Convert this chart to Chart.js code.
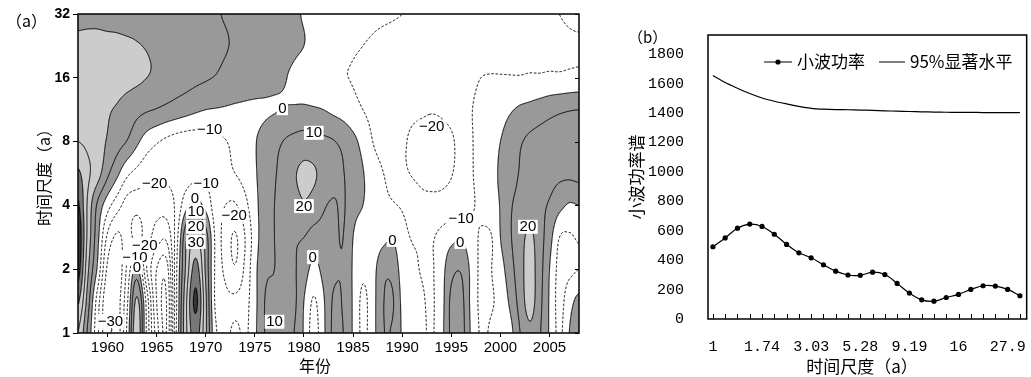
<!DOCTYPE html>
<html><head><meta charset="utf-8">
<script src="https://cdn.jsdelivr.net/npm/chart.js@4.4.1/dist/chart.umd.min.js"></script>
<style>
html,body{margin:0;padding:0;background:#fff;}
#pa{position:absolute;left:0;top:0;width:600px;height:377px;}
#pb{position:absolute;left:600px;top:0;width:431px;height:377px;}
</style></head><body>
<div id="pa"><canvas id="ca" width="600" height="377"></canvas></div>
<div id="pb"><canvas id="cb" width="431" height="377"></canvas></div>
<script>
// ---------- Panel (a) data ----------
const years = [1957,1958,1959,1960,1961,1962,1963,1964,1965,1966,1967,1968,1969,1970,1971,1972,1973,1974,1975,1976,1977,1978,1979,1980,1981,1982,1983,1984,1985,1986,1987,1988,1989,1990,1991,1992,1993,1994,1995,1996,1997,1998,1999,2000,2001,2002,2003,2004,2005,2006,2007,2008];
const scaleRows = [1, 1.41421, 2, 2.82843, 4, 5.65685, 8, 11.3137, 16, 22.6274, 32];
// wavelet coefficients (real part), one row per year, one value per scale in scaleRows
const waveletCoef = [
[30,42,55,58,52,42,30,25,24,22,18],
[8,15,22,27,28,32,28,25,24,22.5,18],
[-18,-15,-2,3,8,24,25,24,24,22.5,18],
[-38,-38,-32,-22,-6,12,19,21,23.5,22.5,17],
[-36,-35,-38,-32,-16,2,14,19,23,22,17],
[-8,-12,-18,-26,-24,-8,9.5,16,22.5,21.5,16],
[28,22,2,-33,-26,-13,2,13,21.5,20.5,16],
[-12,-14,-30,-27,-24,-16.5,-5,11,20,19.5,15],
[-45,-50,-50,-35,-26,-18,-9,9.5,18.5,18,15],
[-60,-60,-55,-38,-25,-18,-12,7.5,17,17,14],
[-10,-12,-12,-15,-18,-17,-14,5.5,15,15.5,13],
[28,28,22,18,-3,-15,-15,3.5,13.5,14,12],
[45,52,44,30,4,-13,-15,1.5,12,13,12],
[22,22,18,15,-3,-12,-14,0,10.8,12,11],
[-8,-12,-12,-12,-15,-13,-12.5,-0.5,9.5,11.5,10.5],
[-13,-17,-22,-24,-20,-13,-10.5,-1,7.5,10.5,9.5],
[-7,-17,-29,-31,-21,-10,-7,-1.5,6.5,9,8],
[-12,-14,-18,-20,-13,-6,-3,-1.5,5,7.5,7],
[-2,-3,-3,-5,-3,-1,-0.5,-1.5,4,6,6],
[10,10,8,6,5,4,3,-1,3,5,5],
[12,12,10,10,10,9,7,-0.5,2,4,3.5],
[14,14,13,12,13,14,10.5,0.5,0.5,3,2.5],
[10,12,11,11,16,19,13,1,-1.5,1.5,1],
[-1,0,5,10,19,22,14.5,1.5,-4,0,-0.5],
[-14,-11,-3,6,16,21,13.5,1,-6.5,-2,-2],
[-2,-1,3,7,11,17,12,0,-7.5,-4.5,-3],
[12,11,8,8,9,13.5,10.5,-2,-8.5,-6,-4.5],
[10,9,9,10,11,10.5,7.5,-4,-9.5,-7.5,-5.5],
[-1,-1,-1,0,3,4,2.5,-7,-10.5,-9,-6.5],
[-12,-12,-8,-5,0,0.5,-3,-10,-12,-10,-7.5],
[-4,-4,-4,-6,-4,-5,-10,-12.5,-13,-11,-8.5],
[9,9,7,-3,-7,-9.5,-14,-14,-14,-12,-9],
[9,11,7,-0.5,-9,-14,-17,-16,-14.5,-12.5,-9.5],
[-1,-2,-4,-7,-11,-18,-19,-17.5,-15,-13,-10],
[-6,-7,-8,-10.5,-14,-20.5,-21,-18.5,-15.5,-13.5,-10.8],
[-8,-9,-10.5,-11,-17,-22,-22.5,-19,-16,-14,-11.5],
[-11,-11,-11,-11,-17.5,-22.5,-23,-19.5,-16,-14.5,-12],
[-3,-4,-4,-7,-17,-22,-22.5,-19,-16,-15,-12.5],
[12,12,7,-3,-15,-20.5,-21,-17.5,-15.5,-15,-13],
[14,13,9,-1,-13,-16,-17,-15,-14,-15,-13],
[-1,-2,-2,-6,-11,-11,-11,-10.5,-12,-14.5,-13],
[-11,-12,-12,-11,-8,-7,-7,-8,-10,-14,-13],
[-9,-11,-10.5,-11,-3,-2,-3,-6,-9.5,-13.5,-13],
[-6,-7,-4,0,0.5,1,0,-4,-9.5,-13,-12.5],
[-3,2,6,9,9,7,5,-1,-9.5,-12.5,-12],
[10,14,16,16,12,10.5,9,1.5,-9.5,-12,-11.5],
[18,24,24,22,16,13,12,3,-9,-12,-11],
[11,13,14,14,12,13,13.5,5,-9,-11.5,-10.7],
[-1,-1,0,4,9,13,14.5,7,-8.5,-11.5,-10.3],
[-12,-13,-13,-10,3,12,15,8.5,-8.5,-11.5,-10],
[0,-4,-12,-11,-1,12,15,9.5,-8,-11,-9],
[8,3,-10,-9,0,13,15,10,-7.5,-11,-8]
];
const yearTicks = [1960,1965,1970,1975,1980,1985,1990,1995,2000,2005];
const scaleTicks = [1,2,4,8,16,32];
const contourLevels = [-60,-50,-40,-30,-20,-10,0,10,20,30,40,50];
const labelText  = ['0','10','20','0','10','\u221210','\u221220','\u221210','0','10','20','30','\u221220','\u221220','\u221210','0','\u221230','0','0','\u221210','20','\u221220'];
const labelYear  = [1977.8,1981.0,1980.0,1980.9,1977.0,1970.4,1964.8,1970.05,1968.9,1969.0,1969.0,1969.0,1972.9,1963.8,1962.8,1963.0,1960.3,1989.0,1995.9,1996.0,2002.8,1993.0];
const labelScale = [11.5,8.8,3.97,2.28,1.13,9.1,5.1,5.1,4.3,3.73,3.17,2.69,3.6,2.6,2.28,2.05,1.14,2.75,2.69,3.47,3.17,9.4];

// ---------- Panel (b) data ----------
const scaleIndex = [0,1,2,3,4,5,6,7,8,9,10,11,12,13,14,15,16,17,18,19,20,21,22,23,24,25];
const scaleTickLabels = ['1','','','','1.74','','','','3.03','','','','5.28','','','','9.19','','','','16','','','','27.9',''];
const powerValues = [491,551,617,645,629,576,507,450,416,368,325,299,297,318,302,242,176,130,121,146,167,201,226,224,201,158];
const signif95 = [1655,1607,1568,1532,1502,1480,1462,1445,1432,1426,1423,1422,1420,1418,1415,1412,1410,1408,1406,1405,1404,1404,1403,1403,1402,1402];
const powerTicks = [0,200,400,600,800,1000,1200,1400,1600,1800];

// ---------- contour helpers ----------
function cr(p0,p1,p2,p3,t){return 0.5*((2*p1)+(-p0+p2)*t+(2*p0-5*p1+4*p2-p3)*t*t+(-p0+3*p1-3*p2+p3)*t*t*t);}
function traceLevel(F,W,H,lev){
  const P=new Map(), A=new Map(), off=W*H;
  const add=(id,x,y)=>{if(!P.has(id))P.set(id,[x,y]);return id;};
  const link=(a,b)=>{let t=A.get(a);if(!t){t=[];A.set(a,t);}t.push(b);t=A.get(b);if(!t){t=[];A.set(b,t);}t.push(a);};
  for(let j=0;j<H-1;j++){for(let i=0;i<W-1;i++){
    const a=F[j*W+i],b=F[j*W+i+1],c=F[(j+1)*W+i+1],d=F[(j+1)*W+i];
    const idx=(a>=lev?8:0)|(b>=lev?4:0)|(c>=lev?2:0)|(d>=lev?1:0);
    if(idx===0||idx===15)continue;
    const t=j*W+i,bo=(j+1)*W+i,l=off+j*W+i,r=off+j*W+i+1;
    const T_=()=>add(t,i+(lev-a)/(b-a),j);
    const R_=()=>add(r,i+1,j+(lev-b)/(c-b));
    const B_=()=>add(bo,i+(lev-d)/(c-d),j+1);
    const L_=()=>add(l,i,j+(lev-a)/(d-a));
    switch(idx){
      case 1:case 14:link(L_(),B_());break;
      case 2:case 13:link(B_(),R_());break;
      case 3:case 12:link(L_(),R_());break;
      case 4:case 11:link(T_(),R_());break;
      case 6:case 9:link(T_(),B_());break;
      case 7:case 8:link(T_(),L_());break;
      case 5:{if((a+b+c+d)/4>=lev){link(T_(),L_());link(R_(),B_());}else{link(T_(),R_());link(L_(),B_());}break;}
      case 10:{if((a+b+c+d)/4>=lev){link(T_(),R_());link(L_(),B_());}else{link(T_(),L_());link(B_(),R_());}break;}
    }
  }}
  const seen=new Set(),out=[];
  const walk=(s)=>{const line=[P.get(s)];seen.add(s);let prev=-1,cur=s;
    while(true){const nb=A.get(cur);let nx=-1;for(const n of nb){if(n!==prev&&!seen.has(n)){nx=n;break;}}
      if(nx<0){if(cur!==s&&nb.includes(s)&&line.length>2)line.push(P.get(s));break;}
      line.push(P.get(nx));seen.add(nx);prev=cur;cur=nx;}
    out.push(line);};
  for(const [id,nb] of A){if(nb.length===1&&!seen.has(id))walk(id);}
  for(const [id] of A){if(!seen.has(id))walk(id);}
  return out;
}
function grayFor(v){ if(v<0)return 255; if(v<20)return 153; if(v<40)return 204; if(v<50)return 120; return 52; }

const contourPlugin={
  id:'contour',
  beforeDatasetsDraw(chart){
    const ctx=chart.ctx,xs=chart.scales.x,ys=chart.scales.y,ca=chart.chartArea;
    const L0=Math.round(ca.left),T0=Math.round(ca.top),R0=Math.round(ca.right),B0=Math.round(ca.bottom);
    const W=R0-L0,H=B0-T0;
    const pts=chart.data.datasets[0].data, nc=years.length, nr=scaleRows.length;
    const G=(i,j)=>pts[i*nr+j].v;
    const lr=scaleRows.map(s=>Math.log2(s));
    const U=new Float32Array(W),V=new Float32Array(H);
    for(let i=0;i<W;i++){const yr=xs.getValueForPixel(L0+i+0.5);U[i]=Math.max(0,Math.min(nc-1,(yr-years[0])/(years[1]-years[0])));}
    for(let j=0;j<H;j++){const l=Math.log2(ys.getValueForPixel(T0+j+0.5));let k=0;while(k<nr-2&&l>lr[k+1])k++;V[j]=Math.max(0,Math.min(nr-1,k+(l-lr[k])/(lr[k+1]-lr[k])));}
    const ci=k=>Math.max(0,Math.min(nc-1,k)), rj=k=>Math.max(0,Math.min(nr-1,k));
    const F=new Float32Array(W*H);
    for(let j=0;j<H;j++){
      const v=V[j];let jj=Math.floor(v);if(jj>=nr-1)jj=nr-2;const tv=v-jj;
      for(let i=0;i<W;i++){
        const u=U[i];let ii=Math.floor(u);if(ii>=nc-1)ii=nc-2;const tu=u-ii;
        const r=[];
        for(let m=-1;m<=2;m++){const q=rj(jj+m);r.push(cr(G(ci(ii-1),q),G(ci(ii),q),G(ci(ii+1),q),G(ci(ii+2),q),tu));}
        F[j*W+i]=cr(r[0],r[1],r[2],r[3],tv);
      }
    }
    const img=ctx.createImageData(W,H);
    for(let k=0;k<W*H;k++){const g=grayFor(F[k]);img.data[4*k]=g;img.data[4*k+1]=g;img.data[4*k+2]=g;img.data[4*k+3]=255;}
    ctx.putImageData(img,L0,T0);
    ctx.save();
    ctx.beginPath();ctx.rect(L0,T0,W,H);ctx.clip();
    ctx.strokeStyle='#000';ctx.lineWidth=1;ctx.lineJoin='round';
    for(const lev of contourLevels){
      const lines=traceLevel(F,W,H,lev);
      ctx.setLineDash(lev<0?[2.5,1.8]:[]);
      ctx.beginPath();
      for(const ln of lines){ln.forEach((p,n)=>{const x=L0+p[0]+0.5,y=T0+p[1]+0.5;if(n===0)ctx.moveTo(x,y);else ctx.lineTo(x,y);});}
      ctx.stroke();
    }
    ctx.setLineDash([]);
    ctx.font='15px "Liberation Sans", Arial, sans-serif';ctx.textAlign='center';ctx.textBaseline='middle';
    for(let n=0;n<labelText.length;n++){
      const x=xs.getPixelForValue(labelYear[n]),y=ys.getPixelForValue(labelScale[n]);
      const w=ctx.measureText(labelText[n]).width+3;
      ctx.fillStyle='#fff';ctx.fillRect(x-w/2,y-7,w,14);
      ctx.fillStyle='#000';ctx.fillText(labelText[n],x,y+0.5);
    }
    ctx.restore();
  },
  afterDraw(chart){
    const ctx=chart.ctx,ca=chart.chartArea,ys=chart.scales.y;
    ctx.save();
    ctx.strokeStyle='#000';ctx.lineWidth=1.5;
    ctx.strokeRect(ca.left,ca.top,ca.right-ca.left,ca.bottom-ca.top);
    ctx.lineWidth=1;ctx.beginPath();
    for(const v of scaleTicks){const y=Math.round(ys.getPixelForValue(v))+0.5;ctx.moveTo(ca.right-4,y);ctx.lineTo(ca.right,y);}
    ctx.stroke();
    ctx.fillStyle='#000';
    ctx.font='16px "Noto Sans CJK SC", sans-serif';ctx.textAlign='left';ctx.textBaseline='middle';
    ctx.fillText('（a）',6,21);
    ctx.textAlign='center';
    ctx.fillText('年份',315,366);
    ctx.translate(44,(ca.top+ca.bottom)/2);ctx.rotate(-Math.PI/2);
    ctx.fillText('时间尺度（a）',0,0);
    ctx.restore();
  }
};

const gridPoints=[];
years.forEach((yr,i)=>scaleRows.forEach((s,j)=>gridPoints.push({x:yr,y:s,v:waveletCoef[i][j]})));

new Chart(document.getElementById('ca'),{
  type:'scatter',
  data:{datasets:[{data:gridPoints,pointRadius:0,showLine:false}]},
  options:{
    responsive:false,animation:false,events:[],
    layout:{padding:{left:0,top:14,right:21,bottom:0}},
    scales:{
      x:{type:'linear',min:1957,max:2008,
        afterBuildTicks:s=>{s.ticks=yearTicks.map(v=>({value:v}));},
        afterFit:s=>{s.height=44;},
        ticks:{autoSkip:false,maxRotation:0,padding:2,color:'#000',font:{family:'"Liberation Sans", Arial, sans-serif',size:15},callback:v=>String(v)},
        grid:{drawOnChartArea:false,drawTicks:true,tickLength:4,color:'#000'},
        border:{display:false}},
      y:{type:'logarithmic',min:1,max:32,
        afterBuildTicks:s=>{s.ticks=scaleTicks.map(v=>({value:v}));},
        afterFit:s=>{s.width=78;},
        ticks:{autoSkip:false,padding:3,color:'#000',font:{family:'"Liberation Sans", Arial, sans-serif',size:14,weight:'bold'},callback:v=>String(v)},
        grid:{drawOnChartArea:false,drawTicks:true,tickLength:5,color:'#000'},
        border:{display:false}}
    },
    plugins:{legend:{display:false},tooltip:{enabled:false}}
  },
  plugins:[contourPlugin]
});

// ---------- Panel (b) ----------
const panelBPlugin={
  id:'panelB',
  afterDraw(chart){
    const ctx=chart.ctx,ca=chart.chartArea,xs=chart.scales.x;
    ctx.save();
    ctx.strokeStyle='#000';ctx.lineWidth=1.5;
    ctx.strokeRect(ca.left,ca.top,ca.right-ca.left,ca.bottom-ca.top);
    ctx.lineWidth=1;ctx.beginPath();
    for(const i of scaleIndex){const x=Math.round(xs.getPixelForValue(i))+0.5;ctx.moveTo(x,ca.bottom);ctx.lineTo(x,ca.bottom-5);}
    ctx.stroke();
    const ly=ca.top+27;
    ctx.lineWidth=1.2;ctx.beginPath();ctx.moveTo(164,ly);ctx.lineTo(192,ly);ctx.moveTo(279,ly);ctx.lineTo(305,ly);ctx.stroke();
    ctx.fillStyle='#000';ctx.beginPath();ctx.arc(178,ly,2.6,0,Math.PI*2);ctx.fill();
    ctx.font='17px "Noto Sans CJK SC", sans-serif';ctx.textAlign='left';ctx.textBaseline='middle';
    ctx.fillText('小波功率',197,ly);
    ctx.fillText('95%显著水平',310,ly);
    ctx.font='15px "Noto Sans CJK SC", sans-serif';
    ctx.fillText('（b）',28,37);
    ctx.font='17px "Noto Sans CJK SC", sans-serif';ctx.textAlign='center';
    ctx.fillText('时间尺度（a）',262,367);
    ctx.translate(37,(ca.top+ca.bottom)/2);ctx.rotate(-Math.PI/2);
    ctx.fillText('小波功率谱',0,0);
    ctx.restore();
  }
};
const monoFont={family:'"Liberation Mono", "DejaVu Sans Mono", monospace',size:15};
new Chart(document.getElementById('cb'),{
  type:'line',
  data:{datasets:[
    {label:'小波功率',data:powerValues.map((v,i)=>({x:scaleIndex[i],y:v})),borderColor:'#000',borderWidth:1.2,pointRadius:2.6,pointBackgroundColor:'#000',pointBorderWidth:0,tension:0.35},
    {label:'95%显著水平',data:signif95.map((v,i)=>({x:scaleIndex[i],y:v})),borderColor:'#000',borderWidth:1.2,pointRadius:0,tension:0.3}
  ]},
  options:{
    responsive:false,animation:false,events:[],
    layout:{padding:{left:18,top:35,right:3,bottom:0}},
    scales:{
      x:{type:'linear',min:-0.4,max:25.55,
        afterBuildTicks:s=>{s.ticks=scaleIndex.map(v=>({value:v}));},
        afterFit:s=>{s.height=58;},
        ticks:{autoSkip:false,maxRotation:0,padding:11,color:'#000',font:monoFont,callback:v=>scaleTickLabels[v]},
        grid:{display:false},border:{display:false}},
      y:{min:0,max:1930,
        afterBuildTicks:s=>{s.ticks=powerTicks.map(v=>({value:v}));},
        afterFit:s=>{s.width=90;},
        ticks:{padding:16,color:'#000',font:monoFont,callback:v=>String(v)},
        grid:{display:false},border:{display:false}}
    },
    plugins:{legend:{display:false},tooltip:{enabled:false}}
  },
  plugins:[panelBPlugin]
});
</script>
</body></html>
